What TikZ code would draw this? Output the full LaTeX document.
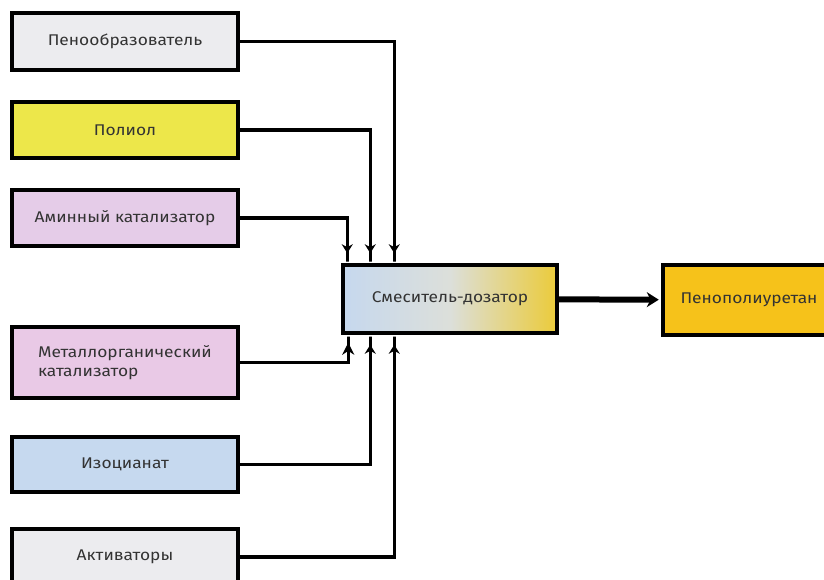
\documentclass[tikz,border=0pt]{standalone}
\usepackage{fontspec}
\setmainfont[FakeStretch=1.12]{Fira Sans}
\usetikzlibrary{arrows.meta}

\definecolor{cinza}{HTML}{ECECEF}
\definecolor{amarelo}{HTML}{EDE74A}
\definecolor{lilas}{HTML}{E5CCE8}
\definecolor{rosa}{HTML}{E9C9E6}
\definecolor{azul}{HTML}{C6D9EF}
\definecolor{ouro}{HTML}{F6C21A}
\definecolor{misturaA}{HTML}{C6D8EE}
\definecolor{misturaM}{HTML}{DCDFDA}
\definecolor{misturaB}{HTML}{EBCB3A}

\tikzset{
    caixa/.style={draw, line width=4.5pt, minimum width=226pt, inner sep=0pt,
        font=\fontsize{15.5}{19}\selectfont, text=black!80},
    ligacao/.style={line width=3.5pt,
        -{Stealth[length=9pt, width=11pt]Rectangle[length=10pt, width=3.5pt]}},
}

\begin{document}
\begin{tikzpicture}[>=Stealth, x=1pt, y=1pt]
    \useasboundingbox (0,0) rectangle (824,-580);

    % componentes
    \node[caixa, fill=cinza, minimum height=57pt] (espumante) at (125,-41.5) {Пенообразователь};
    \node[caixa, fill=amarelo, minimum height=56pt] (poliol) at (125,-130) {Полиол};
    \node[caixa, fill=lilas, minimum height=56pt] (amina) at (125,-218) {Аминный катализатор};
    \node[caixa, fill=rosa, minimum height=71pt, align=left] (metal) at (125,-362.5) {Металлорганический\\катализатор};
    \node[caixa, fill=azul, minimum height=55pt] (isocianato) at (125,-464.5) {Изоцианат};
    \node[caixa, fill=cinza, minimum height=56pt] (ativador) at (125,-557) {Активаторы};

    % misturador e produto
    \node[caixa, line width=3.5pt, left color=misturaA, right color=misturaB, middle color=misturaM,
        minimum width=214pt, minimum height=68pt] (misturador) at (450,-299) {Смеситель-дозатор};
    \node[caixa, fill=ouro, minimum width=172pt, minimum height=70pt] (espuma) at (749,-300) {Пенополиуретан};

    % entradas do misturador
    \coordinate (t1) at ([xshift=6pt]misturador.north west);
    \coordinate (t2) at ([xshift=29pt]misturador.north west);
    \coordinate (t3) at ([xshift=53pt]misturador.north west);
    \coordinate (b1) at ([xshift=7pt]misturador.south west);
    \coordinate (b2) at ([xshift=29pt]misturador.south west);
    \coordinate (b3) at ([xshift=53pt]misturador.south west);

    % ligações
    \draw[ligacao] (espumante) -| (t3);
    \draw[ligacao] (poliol) -| (t2);
    \draw[ligacao] (amina) -| (t1);
    \draw[ligacao, -{Stealth[length=12pt, width=12pt]Rectangle[length=8pt, width=3.5pt]}] (metal) -| (b1);
    \draw[ligacao] (isocianato) -| (b2);
    \draw[ligacao] (ativador) -| (b3);

    % saída
    \draw[line width=6pt, -{Stealth[length=12pt, width=15pt]}, shorten >=2pt] (misturador) -- (espuma);
\end{tikzpicture}
\end{document}
